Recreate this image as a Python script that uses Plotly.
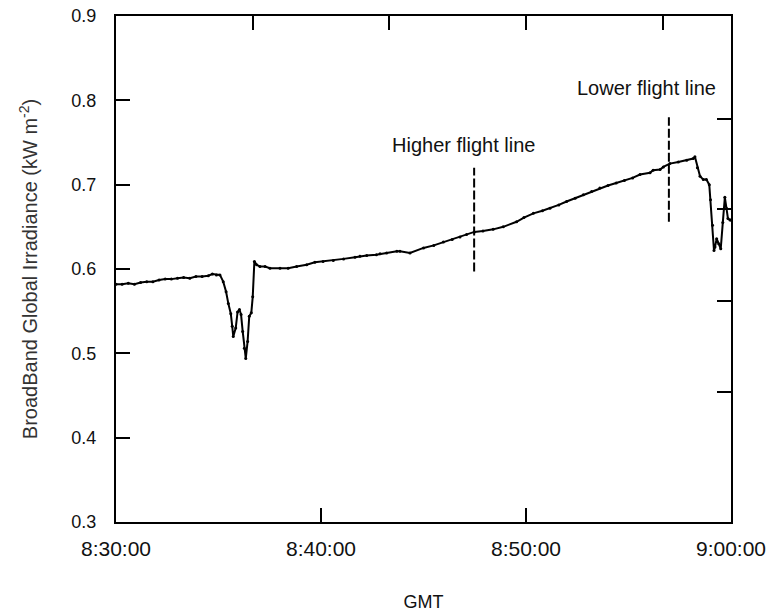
import plotly.graph_objects as go

# time in minutes after 08:30:00 GMT
t_min = [0.0, 0.3, 0.6, 0.9, 1.2, 1.5, 1.8, 2.1, 2.4, 2.7, 3.0, 3.3, 3.6, 3.9, 4.2, 4.5, 4.7, 4.9, 5.07,
         5.23, 5.37, 5.48, 5.6, 5.67, 5.72, 5.84, 5.93, 6.02, 6.1, 6.18, 6.26, 6.33, 6.42, 6.5, 6.6, 6.67,
         6.75, 6.86, 7.02, 7.27, 7.51, 8.0, 8.4, 8.81, 9.3, 9.7, 10.1, 10.6, 11.1, 11.66, 11.9, 12.23, 12.7,
         12.88, 13.2, 13.7, 13.85, 14.34, 15.0, 15.5, 15.97, 16.4, 16.78, 17.1, 17.48, 17.9, 18.4, 18.89,
         19.54, 19.9, 20.36, 20.8, 21.17, 21.6, 21.98, 22.4, 22.8, 23.2, 23.6, 24.0, 24.4, 24.8, 25.2, 25.56,
         26.05, 26.2, 26.54, 26.7, 27.02, 27.43, 27.84, 28.16, 28.24, 28.36, 28.49, 28.65, 28.8, 28.94,
         29.0, 29.1, 29.17, 29.22, 29.3, 29.4, 29.5, 29.6, 29.7, 29.78, 29.85, 29.95, 30.0]
irradiance = [0.582, 0.582, 0.583, 0.582, 0.584, 0.585, 0.585, 0.587, 0.588, 0.588, 0.589, 0.590, 0.589,
              0.591, 0.591, 0.592, 0.594, 0.593, 0.593,
              0.585, 0.573, 0.559, 0.547, 0.532, 0.520, 0.530, 0.549, 0.552, 0.546, 0.526, 0.506, 0.494,
              0.514, 0.544, 0.548, 0.567,
              0.609, 0.605, 0.603, 0.603, 0.601, 0.601, 0.601, 0.603, 0.605, 0.608, 0.609, 0.610, 0.612,
              0.614, 0.615, 0.616, 0.617,
              0.618, 0.619, 0.621, 0.621, 0.619, 0.625, 0.628, 0.632, 0.635, 0.638, 0.641, 0.644, 0.645,
              0.647, 0.650,
              0.656, 0.661, 0.666, 0.669, 0.672, 0.676, 0.680, 0.684, 0.688, 0.692, 0.696, 0.699, 0.702,
              0.705, 0.708, 0.712,
              0.714, 0.717, 0.718, 0.721, 0.725, 0.727, 0.729, 0.731, 0.733, 0.720, 0.710, 0.706, 0.706,
              0.700,
              0.682, 0.652, 0.622, 0.626, 0.636, 0.630, 0.624, 0.655, 0.685, 0.672, 0.660, 0.658, 0.658]

# flight line markers (dashed verticals)
flight_t = [17.47, 26.97]
flight_low = [0.597, 0.656]
flight_high = [0.720, 0.780]
flight_names = ["Higher flight line", "Lower flight line"]
label_t = [16.95, 25.9]
label_v = [0.747, 0.815]

x_tickvals = [0, 10, 20, 30]
x_ticktext = ["8:30:00", "8:40:00", "8:50:00", "9:00:00"]
y_tickvals = [0.3, 0.4, 0.5, 0.6, 0.7, 0.8, 0.9]
y_ticktext = ["0.3", "0.4", "0.5", "0.6", "0.7", "0.8", "0.9"]
top_tickvals = [2, 4, 6, 8]
right_tickvals = [0.257, 0.437, 0.618, 0.797]

FONT = "Liberation Sans, Arial, sans-serif"

fig = go.Figure()
fig.add_trace(go.Scatter(
    x=t_min, y=irradiance, mode="lines+markers",
    line=dict(color="black", width=2),
    marker=dict(color="black", size=3),
    showlegend=False, hoverinfo="skip"))

for ft, lo, hi in zip(flight_t, flight_low, flight_high):
    fig.add_trace(go.Scatter(
        x=[ft, ft], y=[lo, hi], mode="lines",
        line=dict(color="black", width=2, dash="9px,3px"),
        showlegend=False, hoverinfo="skip"))

# helper trace for the secondary (top/right) frame axes
fig.add_trace(go.Scatter(x=[0], y=[0], xaxis="x2", yaxis="y2", mode="markers",
                         marker=dict(opacity=0), showlegend=False, hoverinfo="skip"))

for name, lt, lv in zip(flight_names, label_t, label_v):
    fig.add_annotation(x=lt, y=lv, text=name, showarrow=False,
                       font=dict(family=FONT, size=20, color="#111"))

fig.update_layout(
    width=767, height=612,
    margin=dict(l=116, r=36, t=16, b=90),
    paper_bgcolor="white", plot_bgcolor="white",
    font=dict(family=FONT, color="#111"),
    xaxis=dict(range=[0, 30], tickvals=x_tickvals, ticktext=x_ticktext, automargin=False,
               ticks="inside", ticklen=14, tickwidth=1.6, tickcolor="black",
               showline=True, linecolor="black", linewidth=2, showgrid=False, zeroline=False,
               tickfont=dict(size=21, family=FONT, color="#111"),
               ticklabelstandoff=7,
               title=dict(text="GMT", font=dict(size=18, family=FONT, color="#111"), standoff=36)),
    yaxis=dict(range=[0.3, 0.9], tickvals=y_tickvals, ticktext=y_ticktext, automargin=False,
               ticks="inside", ticklen=14, tickwidth=1.6, tickcolor="black",
               showline=True, linecolor="black", linewidth=2, showgrid=False, zeroline=False,
               tickfont=dict(size=18, family=FONT, color="#111"),
               ticklabelstandoff=14,
               title=dict(text="BroadBand Global Irradiance (kW m<sup>-2</sup>)",
                          font=dict(size=20, family=FONT, color="#333"), standoff=28)),
    xaxis2=dict(range=[0, 9], overlaying="x", side="top", anchor="y2", automargin=False,
                tickvals=top_tickvals, ticks="inside", ticklen=14, tickwidth=1.6, tickcolor="black",
                showticklabels=False, showline=True, linecolor="black", linewidth=2,
                showgrid=False, zeroline=False),
    yaxis2=dict(range=[0, 1], overlaying="y", side="right", anchor="x2", automargin=False,
                tickvals=right_tickvals, ticks="inside", ticklen=14, tickwidth=1.6, tickcolor="black",
                showticklabels=False, showline=True, linecolor="black", linewidth=2,
                showgrid=False, zeroline=False),
)

fig.write_html("out.html")
